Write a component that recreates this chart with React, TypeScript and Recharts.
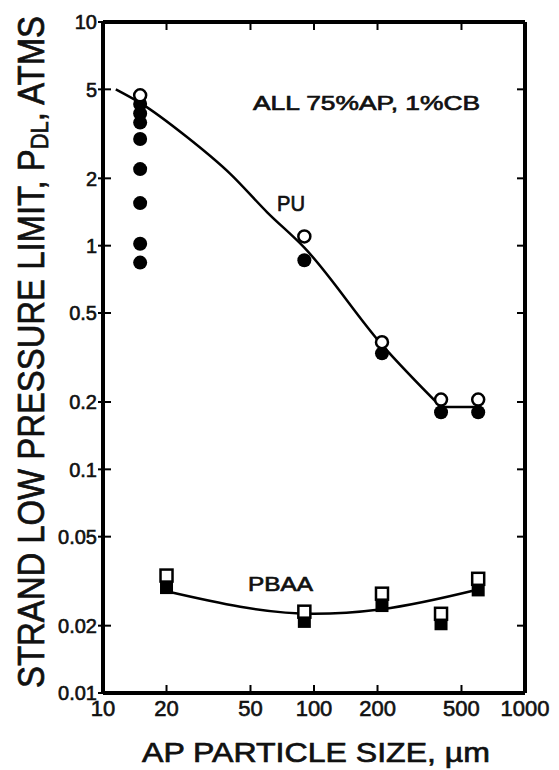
import { ComposedChart, Line, Scatter, XAxis, YAxis } from "recharts";

// AP particle size axis (µm) and pressure axis (atm)
const sizeTicks = [10, 20, 50, 100, 200, 500, 1000];
const sizeTickLabels = ["10", "20", "50", "100", "200", "500", "1000"];
const pressureTicks = [0.01, 0.02, 0.05, 0.1, 0.2, 0.5, 1, 2, 5, 10];
const pressureTickLabels = ["0.01", "0.02", "0.05", "0.1", "0.2", "0.5", "1", "2", "5", "10"];

// PU binder, open and filled circles
const puOpenSize = [15, 90, 210, 400, 600];
const puOpenP = [4.7, 1.1, 0.37, 0.205, 0.205];
const puFilledSize = [15, 15, 15, 15, 15, 15, 15, 15, 90, 210, 400, 600];
const puFilledP = [4.3, 3.9, 3.55, 3.0, 2.2, 1.55, 1.02, 0.84, 0.86, 0.33, 0.18, 0.18];
const puCurveSize = [11.5, 15, 25, 40, 60, 90, 210, 400];
const puCurveP = [5.0, 4.35, 3.06, 2.1, 1.41, 0.98, 0.36, 0.19];
const puPlateauSize = [400, 600];
const puPlateauP = [0.19, 0.19];

// PBAA binder, open and filled squares
const pbaaOpenSize = [20, 90, 210, 400, 600];
const pbaaOpenP = [0.0335, 0.0231, 0.0278, 0.0226, 0.0324];
const pbaaFilledSize = [20, 90, 210, 400, 600];
const pbaaFilledP = [0.0296, 0.0209, 0.0246, 0.0204, 0.0289];
const pbaaCurveSize = [20, 100, 210, 600];
const pbaaCurveP = [0.0285, 0.0226, 0.0237, 0.029];

const pts = (xs: number[], ys: number[]) => xs.map((x, i) => ({ x, y: ys[i] }));

const FONT = "'Liberation Sans', Arial, sans-serif";
const INK = "#111";

function OpenCircle(p: any) {
  return <circle cx={p.cx} cy={p.cy} r={6} fill="#fff" stroke="#000" strokeWidth={2.5} />;
}
function FilledCircle(p: any) {
  return <circle cx={p.cx} cy={p.cy} r={7} fill="#000" />;
}
function OpenSquare(p: any) {
  return <rect x={p.cx - 6} y={p.cy - 6} width={12} height={12} fill="#fff" stroke="#000" strokeWidth={2.5} />;
}
function FilledSquare(p: any) {
  return <rect x={p.cx - 6.5} y={p.cy - 6.5} width={13} height={13} fill="#000" />;
}

function LeftTick({ x, y, index }: any) {
  return (
    <g>
      <line x1={x - 5} y1={y} x2={x + 8} y2={y} stroke="#000" strokeWidth={2} />
      <text x={x - 6} y={y} dy="0.36em" textAnchor="end" fontSize={20} fontFamily={FONT} fill={INK} stroke={INK} strokeWidth={0.6}>
        {pressureTickLabels[index]}
      </text>
    </g>
  );
}
function BottomTick({ x, y, index }: any) {
  return (
    <g>
      <line x1={x} y1={y} x2={x} y2={y - 8} stroke="#000" strokeWidth={2} />
      <text x={x} y={y + 23} textAnchor="middle" fontSize={22} fontFamily={FONT} fill={INK} stroke={INK} strokeWidth={0.6}>
        {sizeTickLabels[index]}
      </text>
    </g>
  );
}
function TopTick({ x, y }: any) {
  return <line x1={x} y1={y} x2={x} y2={y + 8} stroke="#000" strokeWidth={2} />;
}
function RightTick({ x, y }: any) {
  return <line x1={x} y1={y} x2={x - 8} y2={y} stroke="#000" strokeWidth={2} />;
}

const frame = { stroke: "#000", strokeWidth: 4 };

export default function App() {
  return (
    <div style={{ position: "relative", width: 559, height: 770, background: "#fff" }}>
      <style>{"body{margin:0}"}</style>
      <ComposedChart width={559} height={770} margin={{ top: 21, right: 33, bottom: 76, left: 102 }}>
        <XAxis
          xAxisId="b"
          dataKey="x"
          type="number"
          scale="log"
          domain={[10, 1000]}
          allowDataOverflow
          ticks={sizeTicks}
          height={1}
          tickSize={0}
          tickMargin={0}
          tickLine={false}
          axisLine={frame}
          tick={BottomTick}
          interval={0}
        />
        <XAxis
          xAxisId="t"
          orientation="top"
          dataKey="x"
          type="number"
          scale="log"
          domain={[10, 1000]}
          allowDataOverflow
          ticks={sizeTicks.slice(1, -1)}
          height={1}
          tickSize={0}
          tickMargin={0}
          tickLine={false}
          axisLine={frame}
          tick={TopTick}
          interval={0}
        />
        <YAxis
          yAxisId="l"
          dataKey="y"
          type="number"
          scale="log"
          domain={[0.01, 10]}
          allowDataOverflow
          ticks={pressureTicks}
          width={1}
          tickSize={0}
          tickMargin={0}
          tickLine={false}
          axisLine={frame}
          tick={LeftTick}
          interval={0}
        />
        <YAxis
          yAxisId="r"
          orientation="right"
          dataKey="y"
          type="number"
          scale="log"
          domain={[0.01, 10]}
          allowDataOverflow
          ticks={pressureTicks.slice(1, -1)}
          width={1}
          tickSize={0}
          tickMargin={0}
          tickLine={false}
          axisLine={frame}
          tick={RightTick}
          interval={0}
        />
        <Line xAxisId="b" yAxisId="l" data={pts(puCurveSize, puCurveP)} dataKey="y" type="monotone" dot={false} stroke="#000" strokeWidth={2.5} isAnimationActive={false} />
        <Line xAxisId="b" yAxisId="l" data={pts(puPlateauSize, puPlateauP)} dataKey="y" type="linear" dot={false} stroke="#000" strokeWidth={2.5} isAnimationActive={false} />
        <Line xAxisId="b" yAxisId="l" data={pts(pbaaCurveSize, pbaaCurveP)} dataKey="y" type="monotone" dot={false} stroke="#000" strokeWidth={2.5} isAnimationActive={false} />
        <Scatter xAxisId="b" yAxisId="l" data={pts(puFilledSize, puFilledP)} shape={FilledCircle} isAnimationActive={false} />
        <Scatter xAxisId="b" yAxisId="l" data={pts(puOpenSize, puOpenP)} shape={OpenCircle} isAnimationActive={false} />
        <Scatter xAxisId="b" yAxisId="l" data={pts(pbaaFilledSize, pbaaFilledP)} shape={FilledSquare} isAnimationActive={false} />
        <Scatter xAxisId="b" yAxisId="l" data={pts(pbaaOpenSize, pbaaOpenP)} shape={OpenSquare} isAnimationActive={false} />
      </ComposedChart>
      <svg
        width={559}
        height={770}
        style={{ position: "absolute", left: 0, top: 0, pointerEvents: "none" }}
        fontFamily={FONT}
        fill={INK}
        stroke={INK}
        strokeWidth={0.7}
      >
        <text
          x={31}
          y={352}
          transform="rotate(-90 31 352)"
          textAnchor="middle"
          dominantBaseline="central"
          fontSize={36}
          textLength={672}
          lengthAdjust="spacingAndGlyphs"
        >
          STRAND LOW PRESSURE LIMIT, P<tspan fontSize={24} dy={8}>DL</tspan>
          <tspan dy={-8}>, ATMS</tspan>
        </text>
        <text x={316} y={762} textAnchor="middle" fontSize={28} textLength={348} lengthAdjust="spacingAndGlyphs">
          AP PARTICLE SIZE, µm
        </text>
        <text x={253} y={110} fontSize={21} textLength={227} lengthAdjust="spacingAndGlyphs">
          ALL 75%AP, 1%CB
        </text>
        <text x={277} y={211} fontSize={22} textLength={28} lengthAdjust="spacingAndGlyphs">
          PU
        </text>
        <text x={248} y={591} fontSize={21} textLength={65} lengthAdjust="spacingAndGlyphs">
          PBAA
        </text>
      </svg>
    </div>
  );
}
